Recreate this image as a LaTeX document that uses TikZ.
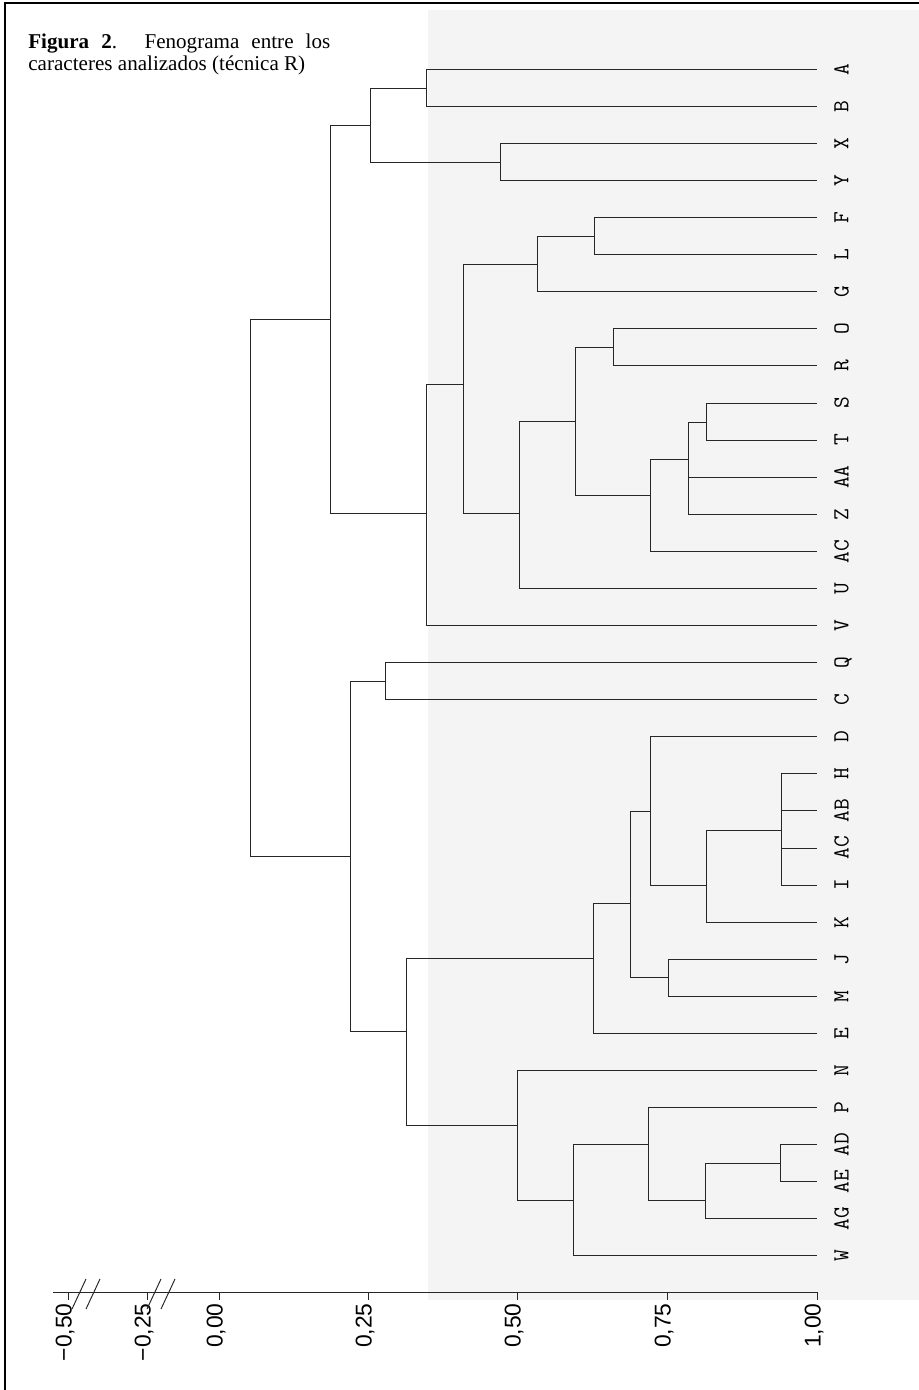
\documentclass[tikz,border=0pt]{standalone}
\usepackage{fontspec}
\setmainfont{Liberation Serif}
\newfontfamily\axisfont{Liberation Sans}
\tikzset{
    branch/.style={line width=0.55pt, black!85},
    leaf/.style={rotate=90, anchor=north, inner sep=0pt, font=\ttfamily\fontsize{13}{13}\selectfont},
    ticklabel/.style={rotate=90, anchor=east, inner sep=0pt, font=\axisfont\fontsize{13}{13}\selectfont},
    caption/.style={anchor=base west, inner sep=0pt, align=left, font=\fontsize{12}{12.5}\selectfont},
}
\begin{document}
\begin{tikzpicture}[x=0.02cm, y=-0.02cm]
        \useasboundingbox (0,0) rectangle (919,1390);
        % page
            \fill[gray!9] (428,10) rectangle (919,1300);
            \draw[line width=0.8pt] (5,1390) -- (5,3) -- (919,3);
            \node[caption] (cap) at (28,70) {\makebox[6.04cm][s]{\textbf{Figura 2}. Fenograma entre los}\\caracteres analizados (técnica R)};
        % leaves
            \foreach \i/\lab in {0/A,1/B,2/X,3/Y,4/F,5/L,6/G,7/O,8/R,9/S,10/T,11/AA,12/Z,13/AC,14/U,15/V,16/Q,
                17/C,18/D,19/H,20/AB,21/AC,22/I,23/K,24/J,25/M,26/E,27/N,28/P,29/AD,30/AE,31/AG,32/W}{
                \coordinate (l\i) at (817,69.3+37.08*\i);
                \node[leaf] (lab\i) at (834,69.3+37.08*\i) {\lab};
            }
        % clusters
            \coordinate (nAB) at (426,88);
            \coordinate (nXY) at (500.7,162);
            \coordinate (nFL) at (594,236);
            \coordinate (nFLG) at (537.7,264);
            \coordinate (nOR) at (613,347.5);
            \coordinate (nST) at (706.7,422);
            \coordinate (nSZ) at (688,459);
            \coordinate (nSAC) at (650.7,495.7);
            \coordinate (nOAC) at (575.7,421.7);
            \coordinate (nOU) at (519,513);
            \coordinate (nFU) at (463,384);
            \coordinate (nFV) at (426,513);
            \coordinate (nHI) at (781,830);
            \coordinate (nHK) at (706,885.5);
            \coordinate (nDK) at (650,811.6);
            \coordinate (nJM) at (668,977);
            \coordinate (nDM) at (630,903);
            \coordinate (nDE) at (593,958.7);
            \coordinate (nADAE) at (780,1163);
            \coordinate (nADAG) at (705,1200);
            \coordinate (nPAG) at (648,1144);
            \coordinate (nPW) at (573,1200);
            \coordinate (nNW) at (517,1125);
            \coordinate (nDW) at (406,1031);
            \coordinate (nAX) at (370,125);
            \coordinate (nAV) at (330,319);
            \coordinate (nQC) at (385,681);
            \coordinate (nQW) at (350,856);
            \coordinate (nroot) at (250,588);
        % branches
            \foreach \p/\c in {nAB/l0,nAB/l1,nXY/l2,nXY/l3,nFL/l4,nFL/l5,nFLG/nFL,nFLG/l6,nOR/l7,nOR/l8,
                nST/l9,nST/l10,nSZ/nST,nSZ/l11,nSZ/l12,nSAC/nSZ,nSAC/l13,nOAC/nOR,nOAC/nSAC,nOU/nOAC,nOU/l14,
                nFU/nFLG,nFU/nOU,nFV/nFU,nFV/l15,
                nHI/l19,nHI/l20,nHI/l21,nHI/l22,nHK/nHI,nHK/l23,nDK/l18,nDK/nHK,nJM/l24,nJM/l25,nDM/nDK,nDM/nJM,
                nDE/nDM,nDE/l26,nADAE/l29,nADAE/l30,nADAG/nADAE,nADAG/l31,nPAG/l28,nPAG/nADAG,nPW/nPAG,nPW/l32,
                nNW/l27,nNW/nPW,nDW/nDE,nDW/nNW,
                nAX/nAB,nAX/nXY,nAV/nAX,nAV/nFV,nQC/l16,nQC/l17,nQW/nQC,nQW/nDW,nroot/nAV,nroot/nQW}{
                \draw[branch] (\p) |- (\c);
            }
        % axis
            \draw[branch] (53,1292) -- (817,1292);
            \foreach \x/\v in {68/{−0,50},147/{−0,25},219/{0,00},368/{0,25},517/{0,50},667/{0,75},817/{1,00}}{
                \draw[branch] (\x,1292) -- (\x,1300);
                \node[ticklabel] (t\x) at (\x-3,1303) {\v};
            }
            \foreach \x in {79,93,154,168}{
                \draw[branch] (\x-7,1309) -- (\x+7,1279);
            }
\end{tikzpicture}
\end{document}
